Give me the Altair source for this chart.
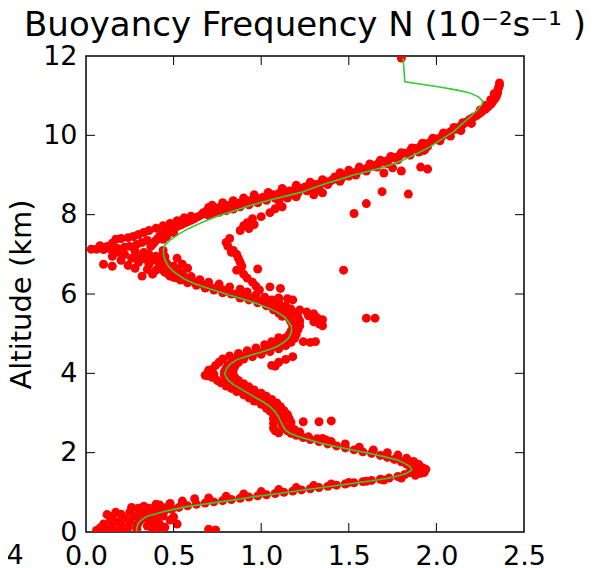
import altair as alt
import pandas as pd

title_text = "Buoyancy Frequency N (10⁻²s⁻¹ )"
y_title = "Altitude (km)"
x_label_values = [0.0, 0.5, 1.0, 1.5, 2.0, 2.5]
y_label_values = [0, 2, 4, 6, 8, 10, 12]
x_inner_ticks = [0.5, 1.0, 1.5, 2.0]
y_inner_ticks = [2, 4, 6, 8, 10]
neighbor_label = ["4"]

# green fitted profile (N in 1e-2 s^-1, altitude in km)
green_n = [1.81, 1.82, 2.00, 2.12, 2.19, 2.24, 2.265, 2.26, 2.23, 2.19, 2.15, 2.10, 2.04, 1.963, 1.89,
           1.81, 1.74, 1.678, 1.60, 1.526, 1.45, 1.374, 1.30, 1.24, 1.15, 1.05, 0.95, 0.86, 0.76, 0.67,
           0.59, 0.536, 0.48, 0.451, 0.441, 0.443, 0.451, 0.466, 0.489, 0.52, 0.556, 0.61, 0.67, 0.75,
           0.822, 0.90, 0.974, 1.04, 1.088, 1.13, 1.155, 1.172, 1.174, 1.168, 1.155, 1.125, 1.088, 1.035,
           0.974, 0.91, 0.86, 0.825, 0.803, 0.793, 0.798, 0.812, 0.84, 0.879, 0.925, 0.974, 1.015, 1.05,
           1.08, 1.098, 1.112, 1.126, 1.14, 1.164, 1.21, 1.279, 1.35, 1.431, 1.53, 1.621, 1.70, 1.773,
           1.82, 1.849, 1.859, 1.83, 1.78, 1.716, 1.63, 1.526, 1.38, 1.24, 1.10, 0.955, 0.86, 0.765, 0.67,
           0.575, 0.50, 0.441, 0.39, 0.346, 0.315, 0.299, 0.29, 0.289]
green_alt = [11.94, 11.35, 11.23, 11.14, 11.07, 10.97, 10.86, 10.78, 10.62, 10.45, 10.30, 10.10, 9.93, 9.71, 9.54,
             9.38, 9.26, 9.17, 9.08, 9.00, 8.89, 8.79, 8.68, 8.58, 8.48, 8.37, 8.25, 8.12, 7.98, 7.82,
             7.66, 7.53, 7.36, 7.24, 7.11, 6.98, 6.86, 6.73, 6.61, 6.50, 6.39, 6.28, 6.18, 6.07,
             5.97, 5.87, 5.76, 5.65, 5.55, 5.43, 5.30, 5.19, 5.09, 4.98, 4.88, 4.77, 4.67, 4.58,
             4.50, 4.42, 4.34, 4.24, 4.13, 4.00, 3.91, 3.83, 3.72, 3.62, 3.50, 3.37, 3.27, 3.16,
             3.03, 2.91, 2.78, 2.66, 2.56, 2.49, 2.41, 2.32, 2.23, 2.15, 2.06, 1.98, 1.90, 1.82,
             1.73, 1.65, 1.56, 1.48, 1.41, 1.35, 1.29, 1.23, 1.14, 1.06, 0.97, 0.89, 0.82, 0.76, 0.70,
             0.64, 0.57, 0.51, 0.45, 0.39, 0.30, 0.22, 0.12, 0.02]

# red measured points [N, altitude]
red_top = [[1.80, 11.95],
           [2.36, 11.32], [2.36, 11.26], [2.355, 11.2], [2.35, 11.14], [2.35, 11.08], [2.345, 11.02],
           [2.34, 10.96], [2.33, 10.9], [2.32, 10.84], [2.31, 10.78], [2.295, 10.72], [2.28, 10.66],
           [2.26, 10.6], [2.245, 10.55], [2.23, 10.5], [2.21, 10.45],
           [2.33, 11.05], [2.31, 10.9], [2.28, 10.75], [2.25, 10.64]]

red_upper = [[2.19, 10.40], [2.17, 10.33], [2.15, 10.27], [2.13, 10.21], [2.11, 10.15], [2.08, 10.09],
             [2.06, 10.03], [2.03, 9.97], [2.00, 9.91], [1.97, 9.85], [1.94, 9.79], [1.91, 9.73],
             [1.88, 9.67], [1.85, 9.61], [1.82, 9.55], [1.79, 9.49], [1.76, 9.44], [1.73, 9.39],
             [1.70, 9.34], [1.67, 9.29], [1.64, 9.24], [1.61, 9.19], [1.58, 9.14], [1.55, 9.09],
             [1.52, 9.05], [1.49, 9.01],
             [2.15, 10.32], [2.10, 10.20], [2.04, 10.06], [1.98, 9.93], [1.92, 9.80], [1.86, 9.68],
             [1.80, 9.56], [1.74, 9.47], [1.68, 9.37], [1.62, 9.28], [1.56, 9.20], [1.50, 9.12], [1.45, 9.06],
             [2.20, 10.30], [2.14, 10.12], [2.08, 9.98], [2.02, 9.86], [1.95, 9.72], [1.93, 9.62],
             [1.90, 9.58], [1.85, 9.50], [1.78, 9.38], [1.72, 9.28], [1.66, 9.20], [1.60, 9.10], [1.54, 9.00],
             [1.91, 9.20], [1.95, 9.15], [1.80, 9.10], [1.75, 9.18], [1.70, 9.05], [1.935, 9.65]]

red_sweep = [[1.50, 8.97], [1.46, 8.93], [1.43, 8.90], [1.40, 8.86], [1.37, 8.83], [1.34, 8.80],
             [1.31, 8.76], [1.28, 8.73], [1.25, 8.70], [1.22, 8.66], [1.19, 8.63], [1.16, 8.60],
             [1.13, 8.57], [1.10, 8.53], [1.07, 8.50], [1.04, 8.47], [1.01, 8.44], [0.98, 8.41],
             [0.95, 8.38], [0.92, 8.35], [0.89, 8.32], [0.86, 8.29], [0.83, 8.26], [0.80, 8.23],
             [0.77, 8.20], [0.74, 8.17], [0.71, 8.14], [0.69, 8.10], [0.67, 8.05], [0.66, 8.00],
             [1.45, 8.84], [1.38, 8.76], [1.33, 8.70], [1.30, 8.62], [1.26, 8.60], [1.21, 8.55],
             [1.17, 8.50], [1.12, 8.46], [1.08, 8.42], [1.03, 8.36], [0.98, 8.30], [0.93, 8.25],
             [0.88, 8.20], [0.84, 8.14], [0.80, 8.10], [0.76, 8.06], [0.72, 8.03], [0.70, 7.98],
             [1.35, 8.55], [1.30, 8.50], [1.20, 8.45], [1.15, 8.42], [1.10, 8.35], [1.33, 8.62],
             [1.42, 8.95], [1.35, 8.88], [1.28, 8.82], [1.20, 8.74], [1.12, 8.66], [1.04, 8.56],
             [0.96, 8.50], [0.90, 8.42], [0.84, 8.35], [0.78, 8.30], [0.72, 8.24], [0.70, 8.18]]

red_left_cloud = [[0.64, 7.95], [0.62, 7.90], [0.60, 7.86], [0.58, 7.82], [0.56, 7.78], [0.54, 7.74],
                  [0.52, 7.70], [0.50, 7.66], [0.48, 7.62], [0.46, 7.58], [0.44, 7.54], [0.43, 7.50],
                  [0.42, 7.45], [0.41, 7.40], [0.40, 7.35], [0.39, 7.30], [0.38, 7.25], [0.37, 7.20],
                  [0.60, 7.96], [0.56, 7.92], [0.52, 7.85], [0.48, 7.78], [0.44, 7.72], [0.40, 7.66],
                  [0.36, 7.60], [0.33, 7.55], [0.30, 7.50], [0.27, 7.45], [0.24, 7.42], [0.20, 7.40],
                  [0.17, 7.38], [0.50, 7.55], [0.46, 7.45], [0.44, 7.38], [0.35, 7.35], [0.32, 7.30],
                  [0.29, 7.25], [0.25, 7.20], [0.22, 7.18], [0.18, 7.15], [0.14, 7.13], [0.10, 7.12],
                  [0.06, 7.13], [0.03, 7.13], [0.12, 7.20], [0.08, 7.22], [0.15, 7.28],
                  [0.18, 7.05], [0.22, 7.00], [0.28, 7.08], [0.33, 7.05], [0.36, 7.00], [0.30, 6.95],
                  [0.26, 6.90], [0.34, 6.88], [0.38, 6.92], [0.40, 6.85], [0.42, 6.80], [0.36, 6.75],
                  [0.30, 6.80], [0.20, 6.85], [0.15, 6.70], [0.24, 6.72], [0.28, 6.65], [0.35, 6.62],
                  [0.40, 6.60], [0.45, 6.55], [0.38, 6.50], [0.32, 6.45], [0.48, 6.45], [0.52, 6.40],
                  [0.55, 6.75], [0.58, 6.65], [0.52, 6.90], [0.15, 6.95], [0.10, 6.75]]

red_branch = [[0.95, 7.90], [0.92, 7.80], [0.90, 7.72], [0.93, 7.65], [0.88, 7.60], [0.96, 7.75],
              [1.00, 7.95], [1.05, 8.05], [1.08, 8.15], [1.12, 8.20],
              [0.82, 7.40], [0.80, 7.30], [0.81, 7.20], [0.84, 7.10], [0.86, 7.00], [0.83, 7.05],
              [0.87, 6.90], [0.88, 6.80], [0.89, 6.70], [0.86, 6.60], [0.90, 6.50],
              [0.92, 6.40], [0.95, 6.30], [0.97, 6.20], [0.99, 6.10], [0.98, 6.63],
              [1.05, 6.18], [1.11, 6.14], [1.10, 5.90], [1.15, 5.88], [1.18, 5.85],
              [1.22, 5.60], [1.26, 5.55], [1.30, 5.50], [1.27, 5.45], [1.32, 5.40], [1.35, 5.35],
              [1.33, 5.25], [1.30, 5.30], [1.35, 5.20],
              [1.24, 4.80], [1.28, 4.78], [1.31, 4.80],
              [1.06, 4.20], [1.10, 4.28], [1.14, 4.35], [1.18, 4.42], [1.08, 4.18]]

red_mid = [[0.44, 7.10], [0.44, 7.02], [0.45, 6.94], [0.45, 6.86], [0.46, 6.78], [0.47, 6.70],
           [0.49, 6.62], [0.51, 6.55], [0.53, 6.48], [0.56, 6.42], [0.59, 6.36], [0.62, 6.30],
           [0.66, 6.25], [0.70, 6.20], [0.74, 6.15], [0.78, 6.10], [0.82, 6.05], [0.86, 6.00],
           [0.90, 5.95], [0.94, 5.90], [0.98, 5.84], [1.02, 5.78], [1.05, 5.72], [1.08, 5.66],
           [1.11, 5.60], [1.13, 5.53], [1.15, 5.46], [1.16, 5.38], [1.17, 5.30], [1.18, 5.22],
           [1.18, 5.14], [1.17, 5.06],
           [0.40, 6.95], [0.41, 6.85], [0.42, 6.72], [0.44, 6.60], [0.47, 6.50], [0.50, 6.42],
           [0.54, 6.35], [0.58, 6.28], [0.63, 6.22], [0.68, 6.15], [0.73, 6.10], [0.78, 6.03],
           [0.83, 6.00], [0.88, 5.90], [0.93, 5.85], [0.98, 5.78], [1.03, 5.70], [1.07, 5.60],
           [1.10, 5.52], [1.12, 5.44],
           [0.50, 6.70], [0.52, 6.62], [0.55, 6.52], [0.60, 6.44], [0.65, 6.36], [0.70, 6.30],
           [0.76, 6.25], [0.82, 6.18], [0.88, 6.12], [0.92, 6.05], [0.97, 5.98], [1.02, 5.92],
           [1.06, 5.85], [1.10, 5.78], [1.14, 5.70], [1.17, 5.62], [1.19, 5.52], [1.21, 5.42],
           [1.22, 5.32], [1.22, 5.20], [1.21, 5.10]]

red_lower = [[1.16, 4.98], [1.14, 4.90], [1.12, 4.82], [1.09, 4.74], [1.06, 4.66], [1.02, 4.60],
             [0.98, 4.54], [0.94, 4.48], [0.90, 4.42], [0.86, 4.36], [0.83, 4.28], [0.81, 4.20],
             [0.80, 4.12], [0.79, 4.04], [0.79, 3.96], [0.80, 3.88], [0.82, 3.80], [0.84, 3.72],
             [0.87, 3.65], [0.90, 3.58], [0.93, 3.50], [0.96, 3.42], [0.99, 3.34], [1.02, 3.26],
             [1.05, 3.18], [1.07, 3.10], [1.09, 3.02], [1.10, 2.94], [1.11, 2.86], [1.12, 2.78],
             [1.12, 2.70], [1.13, 2.62], [1.15, 2.55], [1.17, 2.49],
             [1.10, 4.90], [1.06, 4.80], [1.02, 4.72], [0.97, 4.64], [0.92, 4.57], [0.87, 4.50],
             [0.82, 4.44], [0.78, 4.36], [0.76, 4.28], [0.74, 4.20], [0.72, 4.10], [0.70, 4.02],
             [0.69, 3.94], [0.72, 3.90], [0.75, 3.82], [0.77, 3.76], [0.80, 3.68], [0.83, 3.62],
             [0.86, 3.54], [0.90, 3.46], [0.93, 3.38], [0.96, 3.30], [1.00, 3.22], [1.03, 3.12],
             [1.05, 3.05], [1.07, 2.96], [1.07, 2.86], [1.07, 2.74], [1.07, 2.62], [1.08, 2.55],
             [1.10, 2.50],
             [1.20, 4.98], [1.19, 4.88], [1.17, 4.78], [1.14, 4.70], [1.10, 4.62], [1.05, 4.55],
             [1.00, 4.48], [0.95, 4.42], [0.90, 4.36], [0.87, 4.28], [0.85, 4.18], [0.84, 4.08],
             [0.84, 3.98], [0.85, 3.90], [0.87, 3.82], [0.90, 3.74], [0.93, 3.66], [0.96, 3.58],
             [1.00, 3.50], [1.03, 3.42], [1.06, 3.34], [1.09, 3.25], [1.11, 3.16], [1.13, 3.06],
             [1.15, 2.96], [1.16, 2.86], [1.17, 2.76], [1.17, 2.66], [1.19, 2.58], [1.22, 2.52],
             [0.68, 3.95], [0.70, 4.08], [0.73, 3.98]]

red_bottom = [[1.20, 2.44], [1.24, 2.38], [1.28, 2.33], [1.33, 2.28], [1.38, 2.22], [1.43, 2.17],
              [1.48, 2.12], [1.53, 2.07], [1.58, 2.02], [1.63, 1.98], [1.68, 1.93], [1.72, 1.88],
              [1.76, 1.83], [1.80, 1.77], [1.83, 1.71], [1.85, 1.64], [1.86, 1.57], [1.85, 1.50],
              [1.82, 1.45], [1.78, 1.40], [1.73, 1.36], [1.68, 1.33], [1.63, 1.30], [1.58, 1.27],
              [1.53, 1.24], [1.48, 1.21], [1.43, 1.18], [1.38, 1.15], [1.33, 1.12], [1.28, 1.09],
              [1.23, 1.06], [1.18, 1.03], [1.13, 1.00], [1.08, 0.97], [1.03, 0.94], [0.98, 0.91],
              [0.93, 0.88], [0.88, 0.85], [0.83, 0.82], [0.78, 0.79], [0.73, 0.76], [0.68, 0.73],
              [0.63, 0.70], [0.58, 0.66], [0.53, 0.62], [0.49, 0.58], [0.45, 0.54], [0.41, 0.50],
              [0.38, 0.46], [0.35, 0.41], [0.33, 0.36], [0.31, 0.30], [0.30, 0.24], [0.29, 0.18],
              [0.29, 0.12], [0.29, 0.06],
              [1.18, 2.50], [1.22, 2.45], [1.27, 2.40], [1.32, 2.35], [1.40, 2.28], [1.48, 2.22],
              [1.56, 2.14], [1.64, 2.07], [1.72, 2.00], [1.78, 1.94], [1.83, 1.86], [1.87, 1.78],
              [1.90, 1.70], [1.92, 1.62], [1.92, 1.55], [1.91, 1.48], [1.88, 1.43], [1.80, 1.36],
              [1.70, 1.31], [1.60, 1.28], [1.50, 1.25], [1.40, 1.21], [1.30, 1.17], [1.20, 1.12],
              [1.10, 1.07], [1.00, 1.02], [0.90, 0.96], [0.80, 0.90], [0.70, 0.86], [0.62, 0.84],
              [0.55, 0.78], [0.48, 0.72], [0.42, 0.68], [0.36, 0.60], [0.30, 0.55], [0.25, 0.50],
              [0.20, 0.45], [0.15, 0.40], [1.94, 1.58], [1.93, 1.50], [1.89, 1.62]]

red_base_cloud = [[0.08, 0.10], [0.12, 0.05], [0.06, 0.04], [0.15, 0.15], [0.10, 0.20], [0.18, 0.25],
                  [0.14, 0.30], [0.22, 0.35], [0.20, 0.20], [0.25, 0.28], [0.28, 0.40], [0.32, 0.45],
                  [0.35, 0.52], [0.24, 0.12], [0.20, 0.08], [0.35, 0.15], [0.38, 0.25], [0.40, 0.30],
                  [0.42, 0.20], [0.45, 0.12], [0.48, 0.30], [0.50, 0.38], [0.44, 0.40], [0.38, 0.08],
                  [0.42, 0.05], [0.52, 0.20], [0.30, 0.60], [0.26, 0.62], [0.33, 0.65], [0.40, 0.55],
                  [0.12, 0.44], [0.17, 0.50], [0.16, 0.03], [0.36, 0.34], [0.46, 0.62], [0.40, 0.70],
                  [0.55, 0.72]]

red_outliers = [[1.47, 6.60], [1.60, 5.39], [1.65, 5.39], [1.53, 8.03], [1.60, 8.28], [1.69, 8.58],
                [1.84, 8.52], [1.24, 2.78], [1.33, 2.78], [1.40, 2.80], [1.35, 2.36], [1.37, 2.32],
                [0.70, 0.07], [0.74, 0.05]]

red_all = (red_top + red_upper + red_sweep + red_left_cloud + red_branch + red_mid
           + red_lower + red_bottom + red_base_cloud + red_outliers)
red_df = pd.DataFrame(red_all, columns=["N", "alt"])
green_df = pd.DataFrame({"N": green_n, "alt": green_alt, "i": list(range(len(green_n)))})

W, H = 438, 476
FONT = "DejaVu Sans"
xs = alt.Scale(domain=[0, 2.5], nice=False, zero=False)
ys = alt.Scale(domain=[0, 12], nice=False, zero=False)
x_axis = alt.Axis(values=x_label_values, format=".1f", title=None, labelPadding=11,
                  labelBaseline="top", labelFlush=False, labelOverlap=False)
y_axis = alt.Axis(values=y_label_values, format="d", title=y_title, labelPadding=9,
                  labelFlush=False, labelOverlap=False,
                  titleAngle=270, titleX=-56, titleY=H / 2, titleBaseline="alphabetic",
                  titleAlign="center")


def xenc(field):
    return alt.X(field, type="quantitative", scale=xs, axis=x_axis)


def yenc(field):
    return alt.Y(field, type="quantitative", scale=ys, axis=y_axis)


points = alt.Chart(red_df).mark_circle(color="#ff0000", size=80, opacity=1, clip=True).encode(
    x=xenc("N"), y=yenc("alt"))

line = alt.Chart(green_df).mark_line(color="#33cc33", strokeWidth=1.6, clip=True).encode(
    x=xenc("N"), y=yenc("alt"), order="i:Q")

xt = pd.DataFrame({"N": x_inner_ticks})
yt = pd.DataFrame({"alt": y_inner_ticks})
tick_bottom = alt.Chart(xt).mark_rule(color="black", strokeWidth=1).encode(
    x=xenc("N"), y=alt.value(H), y2=alt.value(H - 9))
tick_top = alt.Chart(xt).mark_rule(color="black", strokeWidth=1).encode(
    x=xenc("N"), y=alt.value(0), y2=alt.value(9))
tick_left = alt.Chart(yt).mark_rule(color="black", strokeWidth=1).encode(
    y=yenc("alt"), x=alt.value(0), x2=alt.value(9))
tick_right = alt.Chart(yt).mark_rule(color="black", strokeWidth=1).encode(
    y=yenc("alt"), x=alt.value(W), x2=alt.value(W - 9))

# tick label of the neighbouring panel visible at the lower-left edge
neighbor_text = alt.Chart(pd.DataFrame({"label": neighbor_label})).mark_text(
    font=FONT, fontSize=27, color="black", baseline="top", align="center").encode(
    text="label:N", x=alt.value(-71), y=alt.value(H + 11))

chart = alt.layer(points, line, tick_bottom, tick_top, tick_left, tick_right,
                  neighbor_text).properties(
    width=W, height=H,
    title=alt.TitleParams(text=title_text, anchor="middle", font=FONT, fontSize=34,
                          fontWeight="normal", color="black", offset=10, dy=11),
    autosize=alt.AutoSizeParams(type="none"),
    padding={"left": 78, "top": 48, "right": 81, "bottom": 34},
).configure_view(stroke="black", strokeWidth=1.5).configure_axis(
    labelFont=FONT, labelFontSize=27, labelColor="black", domain=False, ticks=False, tickSize=0,
    grid=False, titleFont=FONT, titleFontSize=29, titleFontWeight="normal", titleColor="black",
)

chart.save("out.html", embed_options={"renderer": "svg", "actions": False})
